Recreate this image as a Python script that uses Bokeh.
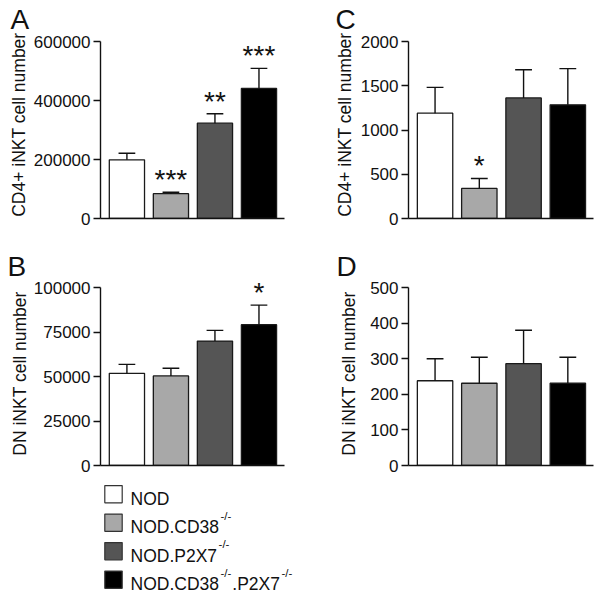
import math
from bokeh.plotting import figure
from bokeh.models import Range1d, FixedTicker, BasicTickFormatter, Title, LabelSet, ColumnDataSource
from bokeh.layouts import column, row
from bokeh.embed import file_html
from bokeh.resources import INLINE
from bokeh.core.properties import value

# ---------------- data ----------------
groups = ["NOD", "NOD.CD38-/-", "NOD.P2X7-/-", "NOD.CD38-/-.P2X7-/-"]
# legend labels split into (text, is_superscript) parts
legend_parts = [
    [("NOD", False)],
    [("NOD.CD38", False), ("-/-", True)],
    [("NOD.P2X7", False), ("-/-", True)],
    [("NOD.CD38", False), ("-/-", True), (".P2X7", False), ("-/-", True)],
]
colors = ["#ffffff", "#a8a8a8", "#555555", "#000000"]

# Panel A: CD4+ iNKT
a_mean = [199000, 84000, 323000, 441000]
a_sem = [22000, 5000, 32000, 68000]
a_sig = ["", "***", "**", "***"]
a_ticks = [0, 200000, 400000, 600000]

# Panel B: DN iNKT
b_mean = [51800, 50300, 69900, 79100]
b_sem = [5000, 4300, 6000, 11000]
b_sig = ["", "", "", "*"]
b_ticks = [0, 25000, 50000, 75000, 100000]

# Panel C: CD4+ iNKT
c_mean = [1190, 340, 1362, 1284]
c_sem = [292, 112, 319, 409]
c_sig = ["", "*", "", ""]
c_ticks = [0, 500, 1000, 1500, 2000]

# Panel D: DN iNKT
d_mean = [238, 231, 286, 231]
d_sem = [62, 73, 94, 73]
d_sig = ["", "", "", ""]
d_ticks = [0, 100, 200, 300, 400, 500]

ylab_cd4 = "CD4+ iNKT cell number"
ylab_dn = "DN iNKT cell number"

FONT = "Liberation Sans"
INK = "#111111"
CAP = 0.19          # half cap width (category units)
BAR_W = 0.8
XR = (0.40, 4.58)


def make_panel(mean, sem, sig, ticks, ylabel, letter, width, height, bl, br, axis_top, head, bb,
               lab_size, lab_align, lab_offset, lab_standoff, let_offset):
    n = len(mean)
    xs = list(range(1, n + 1))
    tops = [m + s for m, s in zip(mean, sem)]
    src = ColumnDataSource(dict(x=xs, mean=mean, top=tops, color=colors[:n], sig=sig[:n],
                                x0=[x - CAP for x in xs], x1=[x + CAP for x in xs]))
    ax_px = height - axis_top - bb            # pixel height of the drawn axis
    y_end = ticks[-1] * (ax_px + head) / ax_px  # headroom above the axis for the stars
    p = figure(width=width, height=height, output_backend="svg", toolbar_location=None,
               x_range=Range1d(*XR), y_range=Range1d(ticks[0], y_end),
               min_border_left=bl, min_border_right=br, min_border_top=axis_top - head,
               min_border_bottom=bb, title=None)
    p.outline_line_color = None
    p.xgrid.visible = False
    p.ygrid.visible = False
    p.background_fill_color = "white"
    p.border_fill_color = "white"

    p.vbar(x="x", top="mean", bottom=0, width=BAR_W, fill_color="color",
           line_color="#1a1a1a", line_width=1.3, source=src)
    p.segment(x0="x", y0="mean", x1="x", y1="top", line_color=INK, line_width=1.4, source=src)
    p.segment(x0="x0", y0="top", x1="x1", y1="top", line_color=INK, line_width=1.4, source=src)

    stars = LabelSet(x="x", y="top", text="sig", source=src, text_align="center",
                     text_baseline="alphabetic", y_offset=3,
                     text_font=value(FONT), text_font_size=value("28px"), text_color=INK)
    p.add_layout(stars)

    ya = p.yaxis[0]
    ya.bounds = (ticks[0], ticks[-1])
    ya.ticker = FixedTicker(ticks=ticks)
    ya.formatter = BasicTickFormatter(use_scientific=False)
    ya.major_tick_out = 7
    ya.major_tick_in = 0
    ya.minor_tick_out = 0
    ya.minor_tick_in = 0
    ya.major_label_standoff = 3
    ya.major_label_text_font = FONT
    ya.major_label_text_font_size = "17px"
    ya.major_label_text_color = INK
    ya.axis_line_color = INK
    ya.axis_line_width = 1.4
    ya.major_tick_line_color = INK
    ya.major_tick_line_width = 1.4

    xa = p.xaxis[0]
    xa.ticker = FixedTicker(ticks=[])
    xa.major_tick_out = 0
    xa.major_tick_in = 0
    xa.minor_tick_out = 0
    xa.minor_tick_in = 0
    xa.major_label_standoff = 0
    xa.axis_line_color = INK
    xa.axis_line_width = 1.4

    # y-axis title as a side-panel title (rotated), outside the tick labels
    p.add_layout(Title(text=ylabel, align=lab_align, offset=lab_offset, standoff=lab_standoff,
                       text_font=FONT, text_font_size=lab_size, text_font_style="normal",
                       text_color=INK), "left")
    # panel letter
    p.add_layout(Title(text=letter, align="left", offset=let_offset, standoff=0,
                       text_font=FONT, text_font_size="28px", text_font_style="normal",
                       text_color=INK), "above")
    return p


pA = make_panel(a_mean, a_sem, a_sig, a_ticks, ylab_cd4, "A", 308, 245, 100, 24, 41, 7, 27,
                "17.5px", "right", -2, 4, -90)
pC = make_panel(c_mean, c_sem, c_sig, c_ticks, ylab_cd4, "C", 292, 245, 100, 7, 41, 7, 27,
                "17.5px", "right", -2, 5, -73)
pB = make_panel(b_mean, b_sem, b_sig, b_ticks, ylab_dn, "B", 308, 232, 100, 24, 42, 6, 12,
                "17.5px", "center", 0, 1, -93)
pD = make_panel(d_mean, d_sem, d_sig, d_ticks, ylab_dn, "D", 292, 232, 100, 7, 42, 6, 12,
                "17.5px", "center", 0, 18, -72)

# ---------------- legend ----------------
LW, LH = 600, 117
leg = figure(width=LW, height=LH, output_backend="svg", toolbar_location=None,
             x_range=Range1d(0, LW), y_range=Range1d(LH, 0),
             x_axis_type=None, y_axis_type=None,
             min_border_left=0, min_border_right=0, min_border_top=0, min_border_bottom=0)
leg.outline_line_color = None
leg.xgrid.visible = False
leg.ygrid.visible = False

ROW0, ROWD = 16.7, 28.5
BOX_X, TEXT_X = 113, 130
MAIN_SIZE, SUP_SIZE = 17.5, 11.5
rows_y = [ROW0 + i * ROWD for i in range(len(groups))]
leg.rect(x=[BOX_X] * len(groups), y=rows_y, width=17.4, height=17.2,
         width_units="screen", height_units="screen",
         fill_color=colors, line_color="#333333", line_width=1.2)

ADV = {'N': 722, 'O': 778, 'D': 722, '.': 278, 'C': 722, '3': 556, '8': 556,
       'P': 667, '2': 556, 'X': 667, '7': 556, '-': 333, '/': 278}


def adv(s, size):
    return sum(ADV.get(ch, 556) for ch in s) / 1000.0 * size


tx, ty, tt = [], [], []
sx, sy, st = [], [], []
for yrow, parts in zip(rows_y, legend_parts):
    x = TEXT_X
    base = yrow + 4.3
    for txt, sup in parts:
        if sup:
            x += 1.5
            sx.append(x); sy.append(base - 11.5); st.append(txt)
            x += adv(txt, SUP_SIZE) + 1.0
        else:
            tx.append(x); ty.append(base); tt.append(txt)
            x += adv(txt, MAIN_SIZE)

leg.text(x=tx, y=ty, text=tt, text_font=value(FONT), text_font_size=value(f"{MAIN_SIZE}px"),
         text_baseline="alphabetic", text_align="left", text_color=INK)
leg.text(x=sx, y=sy, text=st, text_font=value(FONT), text_font_size=value(f"{SUP_SIZE}px"),
         text_baseline="alphabetic", text_align="left", text_color=INK)

layout = column(row(pA, pC), row(pB, pD), leg)
open("out.html", "w").write(file_html(layout, INLINE))
